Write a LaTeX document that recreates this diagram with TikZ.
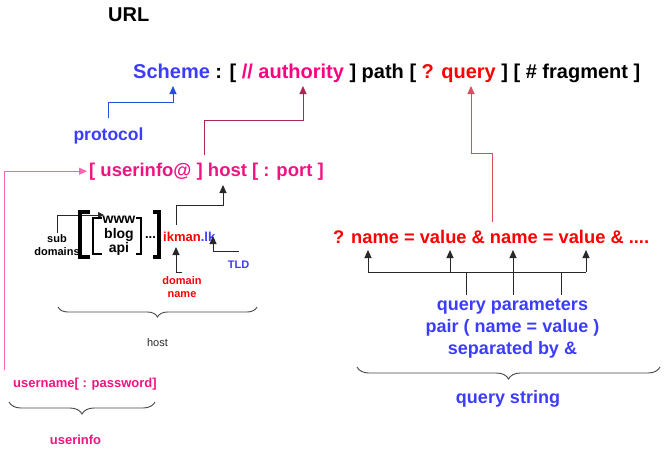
\documentclass[tikz,border=0pt]{standalone}
\usepackage{fontspec}
\setmainfont{Liberation Sans}
\usetikzlibrary{arrows.meta,decorations.pathreplacing}
\definecolor{sblue}{RGB}{60,60,255}
\definecolor{apink}{RGB}{255,0,128}
\definecolor{qred}{RGB}{255,0,0}
\definecolor{upink}{RGB}{240,20,130}
\definecolor{arblue}{RGB}{40,80,210}
\definecolor{arauth}{RGB}{170,40,85}
\definecolor{arq}{RGB}{215,80,90}
\definecolor{lpink}{RGB}{255,100,180}
\definecolor{dk}{RGB}{40,40,40}
\definecolor{brc}{RGB}{70,70,70}
\begin{document}
\begin{tikzpicture}[x=1pt,y=-1pt,
  txt/.style={inner sep=0pt},
  fs/.style={font=\fontsize{#1}{#1}\selectfont\bfseries},
  fr/.style={font=\fontsize{#1}{#1}\selectfont},
  conn/.style={line width=1pt,-{Triangle[length=8pt,width=7pt]}},
  plain/.style={line width=1pt},
  brk/.style={line width=3.2pt,line cap=butt},
  brace/.style={decorate,decoration={brace,amplitude=#1,mirror},brc,line width=0.9pt}]
\useasboundingbox (0,0) rectangle (666,450);

% title and main syntax
\node[txt,fs=20,anchor=base west] (url) at (108,21) {URL};
\node[txt,fs=20,anchor=base west] (main) at (133,78)
  {\textcolor{sblue}{Scheme} : [ \textcolor{apink}{// authority} ] path [ \textcolor{qred}{? query} ] [ \# fragment ]};
\coordinate (tipS) at (173,86);
\coordinate (tipA) at (303,86);
\coordinate (tipQ) at (471,86);

% protocol
\node[txt,fs=17.5,text=sblue,anchor=base] (proto) at (108.5,140) {protocol};
\draw[conn,arblue] ([yshift=9pt]proto.north) |- (173,102) -- (tipS);

% authority line
\node[txt,fs=18.5,text=upink,anchor=base west] (ui) at (89,176) {[ userinfo@ ] host [ : port ]};
\coordinate (hostA) at (204,155);
\draw[conn,arauth] (hostA) |- (303,120) -- (tipA);
\coordinate (ustart) at (4,370);
\draw[conn,lpink] (ustart) |- ([xshift=-2pt]ui.west);

% sub domains
\node[txt,fs=11,anchor=base] (sub) at (57,242) {sub};
\node[txt,fs=11,anchor=base] (dom) at (57,255) {domains};
\node[txt,fs=14,anchor=base] (www) at (119,223) {www};
\node[txt,fs=14,anchor=base] (blog) at (119,238) {blog};
\node[txt,fs=14,anchor=base] (api) at (119,252) {api};
\node[txt,fs=13,anchor=base] (dots) at (150.5,238) {...};
\coordinate (wwwtip) at (104,215);
\draw[conn,dk,-{Triangle[length=6pt,width=6pt]}] ([yshift=1pt]sub.north) |- (wwwtip);
\draw[brk] (90,212) -- (80,212) -- (80,257) -- (90,257);
\draw[brk,line width=2.8pt] (102,218) -- (93,218) -- (93,254) -- (102,254);
\draw[brk,line width=2.8pt] (136,218) -- (141,218) -- (141,254) -- (136,254);
\draw[brk] (153,212) -- (159,212) -- (159,257) -- (153,257);

\node[txt,fs=13,anchor=base west] (ikman) at (163,241.5) {\textcolor{qred}{ikman}\textcolor{sblue}{.lk}};
\coordinate (ikA) at (176,225);
\coordinate (hostB) at (223,185);
\draw[conn,dk] (ikA) |- (223,205) -- (hostB);

\node[txt,fs=11,text=qred,anchor=base] (dn1) at (182,284) {domain};
\node[txt,fs=11,text=qred,anchor=base] (dn2) at (182,297) {name};
\coordinate (iktip) at (176,247);
\draw[conn,dk] ([yshift=3pt]dn1.north) -| (iktip);

\node[txt,fs=11,text=sblue,anchor=base] (tld) at (238.5,268) {TLD};
\coordinate (tldA) at (239,251);
\coordinate (lktip) at (213,236);
\draw[conn,dk] (tldA) -| (lktip);

% host brace
\draw[brace=10pt] (58,307) -- (257,307);
\node[txt,fr=11,text=dk,anchor=base] (host) at (157.5,346) {host};

% query
\node[txt,fs=18.3,text=qred,anchor=base west] (qline) at (333,243) {? name = value \& name = value \& ....};
\coordinate (qA) at (492,222);
\draw[conn,arq] (qA) |- (471,153) -- (tipQ);

\node[txt,fs=18,text=sblue,anchor=base] (qp1) at (512.5,310) {query parameters};
\node[txt,fs=18,text=sblue,anchor=base] (qp2) at (512.5,332) {pair ( name = value )};
\node[txt,fs=18,text=sblue,anchor=base] (qp3) at (512.5,354) {separated by \&};

\coordinate (n1) at (368,250);
\coordinate (v1) at (450,250);
\coordinate (n2) at (513,250);
\coordinate (v2) at (586,250);
\draw[plain,dk] (368,272) -- (586,272);
\draw[conn,dk] (368,272) -- (n1);
\draw[conn,dk] (450,272) -- (v1);
\draw[conn,dk] (513,295) -- (n2);
\draw[conn,dk] (586,272) -- (v2);
\draw[plain,dk] (466,295) -- (466,272);
\draw[plain,dk] (561,295) -- (561,272);

\draw[brace=12pt] (357,367) -- (660,367);
\node[txt,fs=18,text=sblue,anchor=base] (qs) at (508,403) {query string};

% userinfo
\node[txt,fs=13,text=upink,anchor=base west] (un) at (13,387) {username[ : password]};
\draw[brace=12pt] (9,402) -- (155,402);
\node[txt,fs=13,text=upink,anchor=base] (uinfo) at (75.5,444) {userinfo};
\end{tikzpicture}
\end{document}
